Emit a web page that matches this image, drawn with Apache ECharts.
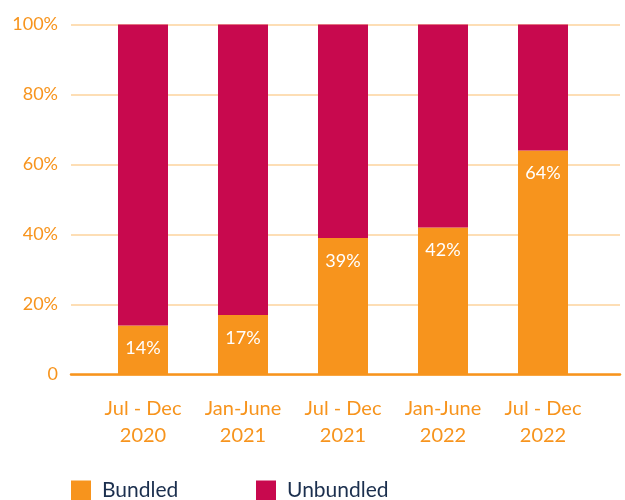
<!DOCTYPE html>
<html>
  <head>
    <meta charset="UTF-8">
    <title>Bundled vs Unbundled</title>
    <script src="https://cdn.jsdelivr.net/npm/echarts@6/dist/echarts.min.js"></script>
  </head>
  <body style="margin:0;">
    <div id="myChart" style="width:625px;height:500px;"></div>
    <script type="text/javascript">
      var periods = ['Jul - Dec\n2020', 'Jan-June\n2021', 'Jul - Dec\n2021', 'Jan-June\n2022', 'Jul - Dec\n2022'];
      var bundled = [14, 17, 39, 42, 64];
      var unbundled = [86, 83, 61, 58, 36];
      var yTicks = [0, 20, 40, 60, 80, 100];

      var orange = '#f7941d';
      var crimson = '#c8094e';
      var font = 'Lato';

      var myChart = echarts.init(document.getElementById('myChart'));

      // one legend per item so the spacing can match
      function legendFor(name, left) {
        return {
          left: left,
          top: 475,
          itemWidth: 20,
          itemHeight: 20,
          icon: 'rect',
          data: [name],
          textStyle: {
            color: '#1b2f4e',
            fontSize: 21,
            fontFamily: font,
            padding: [0, 0, 0, 6]
          }
        };
      }

      var option = {
        animation: false,
        textStyle: {fontFamily: font},
        grid: [
          // bars
          {left: 93, right: 32, top: 24.5, bottom: 125.5},
          // wide grid for gridlines and baseline
          {left: 71, right: 5, top: 24.5, bottom: 125.5}
        ],
        legend: [legendFor('Bundled', 66), legendFor('Unbundled', 251)],
        xAxis: [
          {
            type: 'category',
            gridIndex: 0,
            data: periods,
            axisLine: {show: false},
            axisTick: {show: false},
            axisLabel: {
              color: orange,
              fontSize: 20,
              lineHeight: 27,
              margin: 21,
              fontFamily: font
            }
          },
          {
            type: 'value',
            gridIndex: 1,
            min: 0,
            max: 1,
            axisLine: {show: true, onZero: false, lineStyle: {color: orange, width: 2.5}},
            axisTick: {show: false},
            axisLabel: {show: false},
            splitLine: {show: false}
          }
        ],
        yAxis: [
          {
            type: 'value',
            gridIndex: 0,
            min: 0,
            max: 100,
            interval: 20,
            show: false,
            splitLine: {show: false}
          },
          {
            type: 'value',
            gridIndex: 1,
            min: yTicks[0],
            max: yTicks[yTicks.length - 1],
            interval: 20,
            axisLine: {show: false},
            axisTick: {show: false},
            axisLabel: {
              color: orange,
              fontSize: 18,
              margin: 13,
              fontFamily: font,
              formatter: function (v) { return v === 0 ? '0' : v + '%'; }
            },
            splitLine: {lineStyle: {color: '#fdd39c', width: 1.5}}
          }
        ],
        series: [
          {
            name: 'Bundled',
            type: 'bar',
            stack: 'total',
            xAxisIndex: 0,
            yAxisIndex: 0,
            barWidth: 50,
            itemStyle: {color: orange},
            label: {
              show: true,
              position: 'insideTop',
              distance: 14,
              color: '#ffffff',
              fontSize: 18,
              fontFamily: font,
              formatter: '{c}%'
            },
            data: bundled
          },
          {
            name: 'Unbundled',
            type: 'bar',
            stack: 'total',
            xAxisIndex: 0,
            yAxisIndex: 0,
            barWidth: 50,
            itemStyle: {color: crimson},
            data: unbundled
          }
        ]
      };

      myChart.setOption(option);
    </script>
  </body>
</html>
